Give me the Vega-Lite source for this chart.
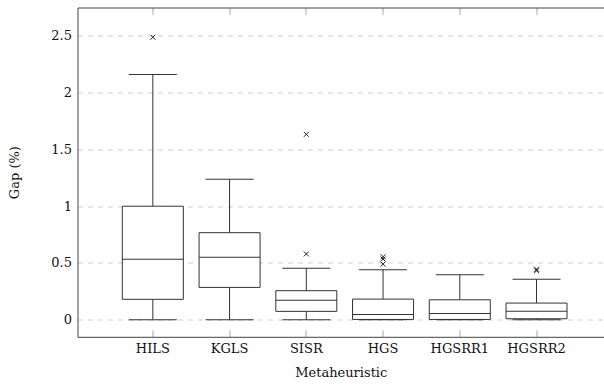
{
  "$schema": "https://vega.github.io/schema/vega-lite/v6.json",
  "width": 526.5,
  "height": 329.3,
  "autosize": {"type": "none"},
  "padding": {"left": 77.5, "top": 7.5, "right": 0, "bottom": 47.2},
  "background": "white",
  "config": {
    "view": {"stroke": null},
    "font": "DejaVu Serif",
    "axis": {
      "labelFont": "DejaVu Serif",
      "titleFont": "DejaVu Serif",
      "labelFontSize": 13,
      "titleFontSize": 13,
      "labelColor": "#111",
      "titleColor": "#111",
      "titleFontWeight": "normal",
      "domainColor": "#444",
      "domainWidth": 1
    }
  },
  "datasets": {
    "boxes": [
      {"method": "HILS", "lo": 0, "q1": 0.18, "med": 0.532, "q3": 1.0, "hi": 2.159},
      {"method": "KGLS", "lo": 0, "q1": 0.285, "med": 0.55, "q3": 0.767, "hi": 1.237},
      {"method": "SISR", "lo": 0, "q1": 0.074, "med": 0.171, "q3": 0.256, "hi": 0.453},
      {"method": "HGS", "lo": 0, "q1": 0.003, "med": 0.047, "q3": 0.182, "hi": 0.44},
      {"method": "HGSRR1", "lo": 0, "q1": 0.003, "med": 0.056, "q3": 0.176, "hi": 0.397},
      {"method": "HGSRR2", "lo": 0, "q1": 0.009, "med": 0.074, "q3": 0.147, "hi": 0.356}
    ],
    "outliers": [
      {"method": "HILS", "gap": 2.488},
      {"method": "SISR", "gap": 1.633},
      {"method": "SISR", "gap": 0.58},
      {"method": "HGS", "gap": 0.555},
      {"method": "HGS", "gap": 0.535},
      {"method": "HGS", "gap": 0.49},
      {"method": "HGSRR2", "gap": 0.445},
      {"method": "HGSRR2", "gap": 0.432}
    ]
  },
  "data": {"name": "boxes"},
  "resolve": {"axis": {"x": "independent"}},
  "layer": [
    {
      "mark": {"type": "rule", "color": "#333", "strokeWidth": 1},
      "encoding": {
        "x": {
          "field": "method", "type": "nominal", "sort": null,
          "scale": {"paddingInner": 0.205, "paddingOuter": 0.533, "align": 0.548},
          "axis": {
            "orient": "bottom", "title": "Metaheuristic", "labelAngle": 0,
            "tickSize": -7, "tickColor": "#aaa", "labelPadding": 13, "titlePadding": 11
          }
        },
        "y": {
          "field": "lo", "type": "quantitative",
          "scale": {"domain": [-0.15, 2.75], "nice": false, "zero": false},
          "axis": {
            "title": "Gap (%)", "values": [0, 0.5, 1, 1.5, 2, 2.5], "format": "~g",
            "ticks": false, "labelPadding": 6, "titlePadding": 29,
            "grid": true, "gridDash": [5, 5], "gridColor": "#cccccc", "gridWidth": 1
          }
        },
        "y2": {"field": "hi"}
      }
    },
    {
      "mark": {"type": "bar", "fill": "white", "stroke": "#333", "strokeWidth": 1},
      "encoding": {
        "x": {"field": "method", "type": "nominal", "sort": null,
          "axis": {"orient": "top", "labels": false, "title": null, "tickSize": -7, "tickColor": "#aaa", "domainColor": "#444"}},
        "y": {"field": "q1", "type": "quantitative"},
        "y2": {"field": "q3"}
      }
    },
    {
      "mark": {"type": "tick", "color": "#333", "size": 61, "thickness": 1, "opacity": 1},
      "encoding": {
        "x": {"field": "method", "type": "nominal", "sort": null, "axis": null},
        "y": {"field": "med", "type": "quantitative"}
      }
    },
    {
      "mark": {"type": "tick", "color": "#333", "size": 48, "thickness": 1, "opacity": 1},
      "encoding": {
        "x": {"field": "method", "type": "nominal", "sort": null, "axis": null},
        "y": {"field": "lo", "type": "quantitative"}
      }
    },
    {
      "mark": {"type": "tick", "color": "#333", "size": 48, "thickness": 1, "opacity": 1},
      "encoding": {
        "x": {"field": "method", "type": "nominal", "sort": null, "axis": null},
        "y": {"field": "hi", "type": "quantitative"}
      }
    },
    {
      "data": {"name": "outliers"},
      "mark": {"type": "point", "shape": "M-1,-1L1,1M-1,1L1,-1", "size": 25, "stroke": "#222", "strokeWidth": 1, "filled": false, "opacity": 1},
      "encoding": {
        "x": {"field": "method", "type": "nominal", "sort": null, "axis": null},
        "y": {"field": "gap", "type": "quantitative"}
      }
    }
  ]
}
